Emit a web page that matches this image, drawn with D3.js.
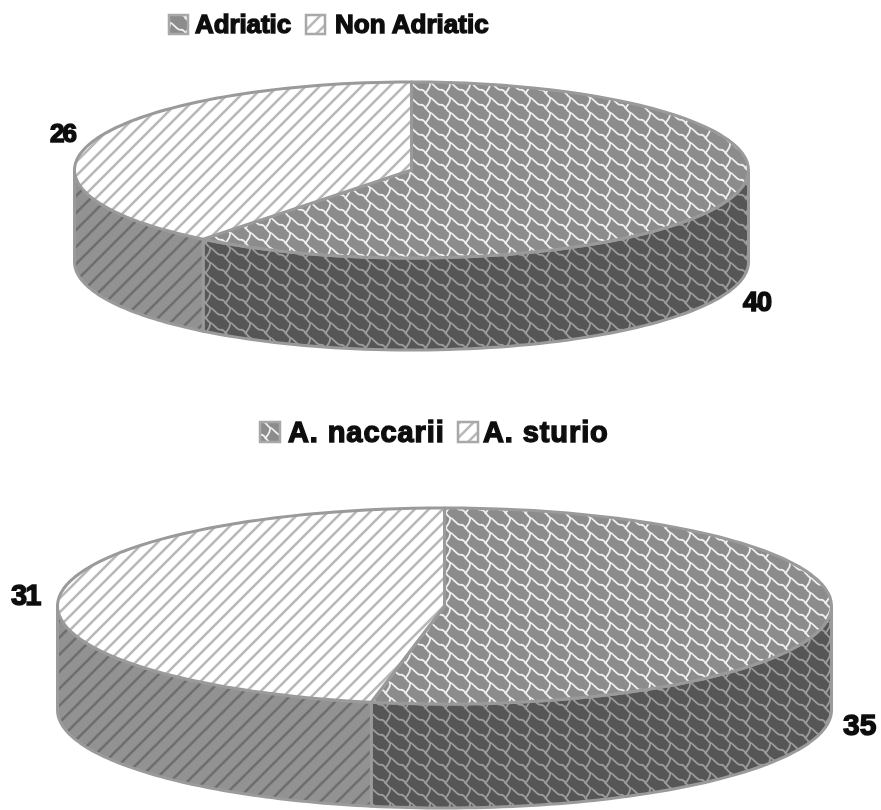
<!DOCTYPE html>
<html><head><meta charset="utf-8"><script src="https://cdn.jsdelivr.net/npm/d3@7"></script>
<style>html,body{margin:0;background:#fff}svg{display:block}</style></head><body>
<svg id="c" width="881" height="810"></svg>
<script>
const categoriesTop = ["Adriatic", "Non Adriatic"];
const valuesTop = [40, 26];
const categoriesBottom = ["A. naccarii", "A. sturio"];
const valuesBottom = [35, 31];

const svg = d3.select("#c");
const defs = svg.append("defs");
defs.append("filter").attr("id","soft").append("feGaussianBlur").attr("stdDeviation",0.7);
function scale(id,bg,fg,sw){
  const W=20,H=15;
  const p=defs.append("pattern").attr("id",id).attr("patternUnits","userSpaceOnUse")
    .attr("width",W).attr("height",H);
  p.append("rect").attr("width",W).attr("height",H).attr("fill",bg);
  const g=p.append("g").attr("fill","none").attr("stroke",fg).attr("stroke-width",sw);
  const d="M0 0 C5 -2 6 6 10 7.5 C14 9 15 13 20 15 M10 7.5 C11 12 8 14 5 19";
  [[0,0],[-20,0],[20,0],[0,-15],[0,15],[-20,-15],[20,15]].forEach(([x,y])=>
    g.append("path").attr("d",d).attr("transform",`translate(${x},${y})`));
}
function hatch(id,bg,fg,sw,gap){
  const p=defs.append("pattern").attr("id",id).attr("patternUnits","userSpaceOnUse")
    .attr("width",gap).attr("height",gap);
  p.append("rect").attr("width",gap).attr("height",gap).attr("fill",bg);
  p.append("path").attr("d",`M${-gap/2} ${gap/2}L${gap/2} ${-gap/2}M0 ${gap}L${gap} 0M${gap/2} ${gap*1.5}L${gap*1.5} ${gap/2}`)
   .attr("stroke",fg).attr("stroke-width",sw);
}
scale("scTop","#8c8c8c","#f0f0f0",1.8);
scale("scSide","#565656","#9c9c9c",1.8);
hatch("hTop","#ffffff","#b8b8b8",2.6,14);
hatch("hSide","#929292","#6e6e6e",2.6,17);

const root = svg.append("g").attr("filter","url(#soft)");

function drawPie(values, layout){
  const {cx,cy,rx,ry,depth} = layout;
  const g = root.append("g");
  const arcs = d3.pie().sort(null)(values);
  const px = d3.scaleLinear().domain([-1,1]).range([cx-rx,cx+rx]);
  const py = d3.scaleLinear().domain([-1,1]).range([cy-ry,cy+ry]);
  const pt = (a,dy=0)=>[px(Math.sin(a)),py(-Math.cos(a))+dy];
  const samples=(a0,a1)=>d3.range(0,73).map(i=>a0+(a1-a0)*i/72);
  const line=d3.line();
  const walls=[["scSide",arcs[0]],["hSide",arcs[1]]];
  walls.forEach(([fill,s])=>{
    const a0=Math.max(s.startAngle,Math.PI/2), a1=Math.min(s.endAngle,Math.PI*1.5);
    if(a1<=a0) return;
    const top=samples(a0,a1).map(a=>pt(a));
    const bot=samples(a1,a0).map(a=>pt(a,depth));
    g.append("path").attr("d",line(top.concat(bot))+"Z").attr("fill",`url(#${fill})`)
     .attr("stroke","#9a9a9a").attr("stroke-width",3).attr("stroke-linejoin","round");
  });
  [["scTop",arcs[0]],["hTop",arcs[1]]].forEach(([fill,s])=>{
    const pts=[[px(0),py(0)]].concat(samples(s.startAngle,s.endAngle).map(a=>pt(a)));
    g.append("path").attr("d",line(pts)+"Z").attr("fill",`url(#${fill})`)
     .attr("stroke","#9a9a9a").attr("stroke-width",3).attr("stroke-linejoin","round");
  });
}
drawPie(valuesTop,{cx:411.5,cy:170,rx:337,ry:88,depth:92});
drawPie(valuesBottom,{cx:444.5,cy:606,rx:387,ry:98,depth:104});

function swatch(x,y,s,fill){
  root.append("rect").attr("x",x).attr("y",y).attr("width",s).attr("height",s)
    .attr("fill",`url(#${fill})`).attr("stroke","#a8a8a8").attr("stroke-width",2.5);
}
function text(x,y,t,size,ls,sw=1){
  root.append("text").attr("x",x).attr("y",y).text(t)
   .attr("font-family","Liberation Sans, Arial, sans-serif").attr("font-weight",700)
   .attr("font-size",size).attr("letter-spacing",ls).attr("fill","#111")
   .attr("stroke","#111").attr("stroke-width",sw);
}
swatch(169,15,19,"scTop"); text(195,33,categoriesTop[0],26,-0.1,1.4);
swatch(306,15,19,"hTop");  text(335,33,categoriesTop[1],26,0,1.4);
swatch(260,422,20,"scTop"); text(288,442,categoriesBottom[0],29,0.9,1.4);
swatch(458,422,20,"hTop");  text(483,442,categoriesBottom[1],29,0.9,1.4);
text(50,142,valuesTop[1],26,-2,1.5);
text(743,311,valuesTop[0],27,-1,1.6);
text(11,605,valuesBottom[1],29,-2,1.4);
text(843,735,valuesBottom[0],30,0,1.4);
</script></body></html>
